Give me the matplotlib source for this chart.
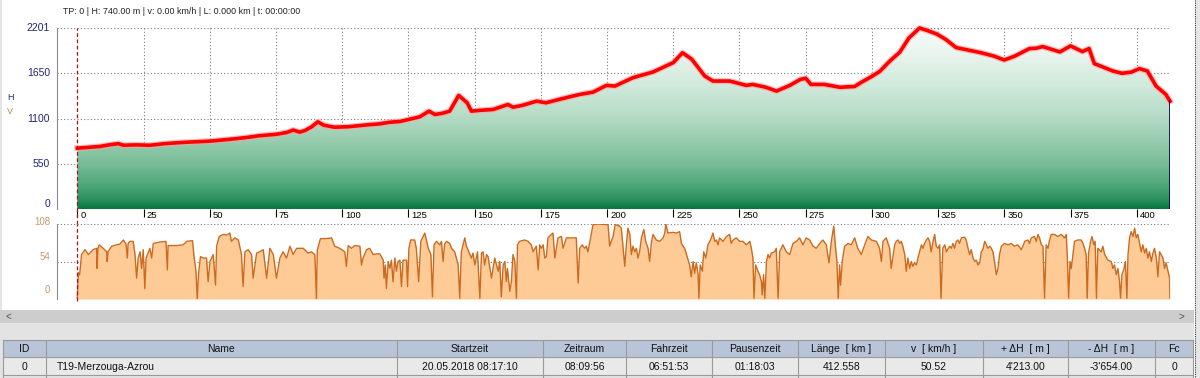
import matplotlib
matplotlib.use("Agg")
import matplotlib.pyplot as plt
import matplotlib.transforms as mtrans
from matplotlib.colors import LinearSegmentedColormap
from matplotlib.patches import Rectangle
import numpy as np

plt.rcParams['font.family'] = ['Liberation Sans', 'DejaVu Sans']

# ---- data ----
elev_km = [0, 5, 8.6, 12, 15.5, 17.4, 22, 27.4, 33, 40, 45, 50, 55, 58.9, 64, 69, 75, 79,
           81.5, 84, 86, 88.5, 90.8, 93, 97, 102, 107, 110, 114, 118, 122, 125, 129.3,
           132.8, 135, 138, 140.6, 144, 147.2, 148.8, 152, 157, 162.6, 164.5, 168, 173.4,
           177, 182.8, 189.7, 194.7, 199.8, 203, 209.8, 217.4, 225, 228.5, 232, 236.9,
           240, 246.3, 252.6, 255, 260, 264, 269, 273, 275, 277, 282, 288, 293.5, 296,
           300, 303, 306.7, 310.5, 314, 318, 321, 324.6, 328, 331.8, 336, 341, 346, 350,
           354, 359.5, 362, 364.5, 367, 371, 375, 379.5, 382, 384, 387, 391, 394.5, 398,
           401, 404, 407.3, 411, 412.558]
elev_m = [740, 752, 761, 780, 795, 775, 780, 775, 795, 810, 818, 825, 840, 852, 870, 892,
          908, 930, 960, 935, 955, 1000, 1060, 1020, 995, 1000, 1015, 1025, 1035, 1055,
          1065, 1088, 1121, 1190, 1149, 1165, 1190, 1381, 1292, 1190, 1200, 1210, 1271,
          1238, 1260, 1311, 1292, 1340, 1393, 1421, 1503, 1495, 1597, 1666, 1780, 1900,
          1821, 1617, 1556, 1556, 1503, 1515, 1480, 1434, 1503, 1576, 1590, 1515, 1515,
          1480, 1490, 1540, 1613, 1674, 1797, 1906, 2080, 2201, 2170, 2126, 2060, 1963,
          1935, 1902, 1860, 1812, 1860, 1951, 1955, 1975, 1950, 1910, 1983, 1914, 1951,
          1768, 1730, 1678, 1650, 1665, 1707, 1678, 1495, 1393, 1311]

speed_km = [0, 0.4, 0.9, 1.6, 2.9, 4.2, 6.0, 7.3, 7.5, 7.8, 8.3, 9.8, 11.1, 11.3, 11.6, 13.0,
            14.8, 16.1, 17.4, 18.4, 18.9, 19.2, 19.9, 21.1, 21.8, 22.4, 23.0, 23.7, 24.3,
            24.9, 25.5, 26.0, 27.4, 28.1, 28.7, 31.2, 33.5, 34.0, 34.3, 37.5, 40.0, 41.3,
            43.5, 44.0, 44.8, 45.3, 45.8, 46.5, 47.6, 48.8, 49.4, 50.1, 51.3, 52.2, 52.6,
            53.6, 55.1, 56.4, 57.6, 58.2, 59.5, 60.8, 62.0, 62.6, 63.3, 64.5, 65.8, 66.4,
            67.7, 68.9, 70.2, 71.5, 72.7, 74.0, 75.2, 76.5, 77.7, 79.0, 80.3, 81.5, 82.8,
            85.3, 87.2, 88.4, 89.7, 90.3, 90.6, 91.8, 94.1, 96.0, 97.2, 99.1, 101.0, 101.6,
            102.3, 103.5, 104.8, 106.7, 107.3, 107.9, 109.2, 110.4, 111.7, 113.0, 114.2,
            114.8, 115.5, 115.8, 116.3, 116.7, 117.4, 118.0, 118.6, 119.2, 119.9, 120.5,
            121.1, 121.8, 122.4, 123.0, 124.3, 124.7, 125.2, 125.9, 127.4, 128.0, 128.9,
            129.7, 130.6, 131.2, 131.8, 132.5, 133.5, 134.1, 134.7, 135.6, 136.9, 137.5,
            138.1, 138.7, 139.4, 140.6, 141.3, 142.5, 143.8, 144.4, 145.0, 146.3, 146.9,
            147.5, 148.8, 149.4, 150.1, 151.1, 152.0, 152.6, 153.2, 153.8, 154.5, 155.1,
            156.4, 157.6, 158.9, 159.5, 160.1, 160.8, 161.4, 162.0, 162.4, 163.3, 163.9,
            164.5, 165.2, 165.8, 166.2, 167.0, 168.9, 170.2, 171.4, 172.1, 173.3, 174.0,
            174.6, 175.2, 175.9, 176.5, 177.1, 177.7, 179.0, 179.6, 180.3, 181.5, 182.8,
            183.4, 184.7, 186.5, 188.4, 189.1, 189.7, 190.6, 191.6, 192.2, 192.8, 193.8,
            194.7, 196.6, 200.4, 201.0, 201.6, 202.3, 203.1, 204.8,
            205.4, 206.1, 206.7, 207.3, 207.9, 208.6, 209.2, 209.8, 210.5, 211.1, 211.7,
            212.3, 213.0, 213.9, 214.6, 215.5, 216.1, 216.8, 217.4, 218.6, 219.9, 221.2,
            221.8, 222.2, 223.0, 224.9, 226.2, 227.4, 228.1, 228.7, 229.3, 230.0, 230.6,
            231.2, 231.8, 232.5, 233.1, 233.7, 234.4, 234.7, 235.2, 236.0, 236.5, 237.3,
            238.1, 238.8, 239.4, 240.0, 240.7, 241.3, 241.9, 242.5, 243.8, 245.1, 246.3,
            246.9, 247.6, 248.8, 250.1, 251.3, 252.6, 253.9, 254.5, 255.1, 255.5, 256.1,
            257.0, 257.6, 258.3, 258.6, 259.1, 259.6, 260.2, 260.8, 261.4, 262.0, 263.3,
            263.9, 264.6, 265.2, 266.4, 267.7, 269.0, 270.2, 271.5, 272.7, 274.0, 275.2,
            276.5, 277.8, 279.0, 280.3, 281.5, 282.8, 283.8, 284.7, 285.6, 286.3, 286.8,
            287.3, 287.8, 288.2, 288.8, 289.7, 291.0, 292.2, 293.5, 294.7, 296.0, 297.3,
            298.5, 299.8, 301.7, 302.9, 303.6, 304.2, 305.4, 306.7, 307.3, 308.6,
            309.2, 309.9, 310.5, 311.1, 311.7, 312.4, 313.0, 313.6, 314.3, 314.9, 315.5,
            316.1, 316.8, 317.4, 318.0, 318.7, 319.3, 319.9, 320.6, 321.2, 321.8, 322.4,
            323.1, 323.7, 324.3, 325.0, 325.6, 326.1, 326.8, 327.5, 328.1, 329.4, 330.0,
            330.6, 331.2, 331.9, 332.5, 333.1, 333.8, 335.0, 335.6, 336.3, 336.9, 337.5,
            338.2, 338.8, 339.4, 340.1, 340.7, 341.3, 341.9, 342.6, 343.2, 343.8, 344.5,
            345.1, 345.7, 346.3, 347.0, 347.6, 348.2, 348.9, 350.1, 351.4, 352.6, 353.9,
            355.1, 356.4, 357.0, 357.7, 358.9, 359.5, 360.2, 361.4, 362.1, 362.7, 363.3,
            364.0, 364.6, 365.2, 365.8, 366.5, 367.1, 367.7, 369.0, 370.2, 371.5, 372.8,
            373.4, 373.8, 374.3, 374.8, 375.3, 375.9, 376.5, 377.8, 379.0, 379.7, 380.3,
            380.9, 381.3, 381.8, 382.6, 383.1, 383.8, 384.3, 384.8, 385.3, 386.6, 387.2,
            387.9, 389.1, 390.4, 391.0, 391.6, 392.3, 392.9, 393.5, 393.9, 394.4, 395.1,
            395.7, 396.3, 396.7, 397.3, 397.9, 398.6, 399.2, 399.8, 400.4, 401.1, 401.7,
            402.3, 403.0, 403.6, 404.2, 404.8, 405.5, 406.1, 406.7, 407.4, 408.0, 408.6,
            409.2, 409.9, 410.5, 411.1, 411.8, 412.4, 412.558]
speed_kmh = [0, 38, 35, 64, 71, 64, 71, 73, 44, 73, 78, 73, 68, 54, 68, 76,
             78, 79, 85, 79, 59, 80, 83, 83, 64, 30, 59, 68, 44,
             71, 15, 59, 73, 59, 80, 82, 83, 42, 77, 77, 78, 83,
             84, 64, 40, 0, 37, 61, 59, 59, 25, 54, 64, 20, 76,
             90, 93, 92, 95, 83, 88, 85, 64, 18, 68, 71, 64, 30,
             66, 68, 71, 30, 73, 64, 30, 59, 68, 59, 76, 64, 73,
             73, 66, 68, 64, 0, 70, 87, 87, 88, 76, 73, 68, 47,
             77, 73, 77, 76, 49, 59, 71, 73, 64, 65, 65,
             61, 56, 30, 49, 15, 54, 44, 56, 25, 59, 40,
             54, 56, 18, 56, 56, 18, 73, 85, 85, 73, 25,
             83, 90, 95, 85, 73, 64, 3, 78, 83, 78, 83,
             54, 79, 83, 80, 73, 68, 49, 1, 68, 88, 76,
             71, 59, 66, 49, 68, 1, 66, 68, 49, 64, 61,
             30, 59, 40, 54, 3, 49, 54, 25, 44, 11, 25,
             64, 54, 1, 78, 83, 85, 83, 78, 68, 76, 42,
             78, 73, 78, 59, 61, 88, 93, 95, 59, 88, 90,
             73, 88, 88, 88, 23, 73, 78, 73, 76, 68, 88,
             107, 108, 107, 76, 83, 90, 107, 105,
             102, 73, 47, 78, 102, 93, 64, 76, 68, 73, 59,
             68, 88, 100, 83, 73, 54, 83, 93, 85, 83, 88,
             95, 108, 95, 96, 95, 97, 80, 76, 73, 64, 56,
             49, 32, 54, 37, 52, 35, 1, 49, 40, 68, 59,
             78, 83, 88, 95, 83, 85, 78, 88, 83, 90, 93,
             80, 85, 88, 83, 83, 78, 83, 73, 59, 1, 49,
             40, 35, 25, 6, 35, 1, 54, 64, 59, 66, 68,
             73, 1, 68, 78, 68, 64, 80, 83, 88, 78, 88,
             85, 76, 73, 80, 85, 78, 52, 83, 105, 73, 54,
             1, 49, 20, 54, 76, 80, 78, 88, 73, 64, 78,
             90, 85, 83, 73, 54, 83, 88, 73, 44, 78,
             83, 85, 80, 83, 76, 64, 40, 59, 44, 54, 47,
             52, 49, 59, 68, 78, 73, 80, 85, 88, 83, 68,
             83, 93, 76, 73, 78, 1, 73, 78, 68, 76, 73,
             80, 73, 83, 85, 80, 88, 89, 85, 73, 64, 71,
             59, 54, 56, 49, 52, 68, 71, 83, 78, 73, 76,
             73, 68, 54, 35, 44, 64, 76, 80, 78, 80, 76,
             78, 71, 76, 83, 85, 80, 88, 90, 83, 93, 88,
             78, 76, 1, 78, 73, 85, 93, 93, 90, 93, 88,
             93, 59, 1, 54, 44, 64, 83, 85, 85, 80, 73,
             64, 1, 66, 83, 90, 78, 83, 1, 73, 68, 76,
             64, 56, 54, 44, 49, 35, 44, 25, 1, 35, 42,
             54, 1, 64, 88, 97, 90, 102, 88, 93, 80, 68,
             78, 66, 73, 59, 68, 54, 66, 73, 59, 32, 68,
             64, 59, 44, 52, 40, 30, 0]

elev_ticks = [0, 550, 1100, 1650, 2201]
speed_ticks = [0, 54, 108]
dist_ticks = list(range(0, 401, 25))
track_len = 412.558

header_line = "TP: 0 | H: 740.00 m | v: 0.00 km/h | L: 0.000 km | t: 00:00:00"
col_names = ["ID", "Name", "Startzeit", "Zeitraum", "Fahrzeit", "Pausenzeit",
             "Länge  [ km ]", "v  [ km/h ]", "+ ΔH  [ m ]", "- ΔH  [ m ]", "Fc"]
row_values = ["0", "T19-Merzouga-Azrou", "20.05.2018 08:17:10", "08:09:56", "06:51:53",
              "01:18:03", "412.558", "50.52", "4'213.00", "-3'654.00", "0"]

# ---- layout (pixels) ----
W, H = 1200, 378
col_edges = [3, 46, 397, 543, 626, 712, 798, 885, 983, 1068, 1155, 1193]

fig = plt.figure(figsize=(W / 100, H / 100), dpi=100)


def px_axes(x0, y0, x1, y1, **kw):
    return fig.add_axes([x0 / W, 1 - y1 / H, (x1 - x0) / W, (y1 - y0) / H], **kw)


# background / window chrome
bg = px_axes(0, 0, W, H, zorder=-5)
bg.set_xlim(0, W)
bg.set_ylim(H, 0)
bg.axis("off")
bg.add_patch(Rectangle((0, 0), 2, 310, fc="#e4e4e4", ec="none"))
bg.add_patch(Rectangle((1195, 0), 5, H, fc="#e6e6e6", ec="none"))
bg.plot([1195, 1195], [0, H], color="#404040", lw=0.8, ls=(0, (1, 1)))
bg.add_patch(Rectangle((0, 310), 1194, 13, fc="#cdcdcd", ec="none"))
bg.text(8, 316.5, "<", fontsize=7, color="#505050", ha="center", va="center")
bg.text(1181, 316.5, ">", fontsize=7, color="#505050", ha="center", va="center")
bg.add_patch(Rectangle((0, 323), 1194, H - 323, fc="#e3e3e3", ec="none"))

# table
x_l, x_r = col_edges[0], col_edges[-1]
bg.add_patch(Rectangle((x_l, 340), x_r - x_l, 17, fc="#b8c4d8", ec="none"))
bg.add_patch(Rectangle((x_l, 357), x_r - x_l, 18, fc="#e9e9e9", ec="none"))
for yy in (340, 357, 375):
    bg.plot([x_l, x_r], [yy, yy], color="#9a9a9a", lw=0.8)
for xx in col_edges:
    bg.plot([xx, xx], [340, H], color="#9a9a9a", lw=0.8)
for i, (name, val) in enumerate(zip(col_names, row_values)):
    xc = (col_edges[i] + col_edges[i + 1]) / 2
    bg.text(xc, 348.5, name, fontsize=7.5, ha="center", va="center", color="#111111")
    if name == "Name":
        bg.text(col_edges[i] + 11, 366.5, val, fontsize=7.5, ha="left", va="center",
                color="#111111")
    else:
        bg.text(xc, 366.5, val, fontsize=7.5, ha="center", va="center", color="#111111")

# ---- elevation panel ----
x_min = -7.66
ax_e = px_axes(57, 28, 1170, 209)
ax_e.set_xlim(x_min, track_len)
ax_e.set_ylim(0, 2201)
ax_e.patch.set_alpha(0)
for s in ("top", "right", "bottom"):
    ax_e.spines[s].set_visible(False)
ax_e.spines["left"].set_color("#8a8a8a")

grid_kw = dict(color="#7a7a7a", lw=0.8, ls=(0, (1, 2)), zorder=1)
for y in elev_ticks:
    ax_e.axhline(y, **grid_kw)
for d in dist_ticks[1:]:
    ax_e.axvline(d, **grid_kw)

cmap = LinearSegmentedColormap.from_list("elev", [
    (0.00, "#067840"), (0.05, "#2a8f5c"), (0.12, "#4aa576"), (0.25, "#78bd97"),
    (0.40, "#9dcfb3"), (0.55, "#bcdfcb"), (0.70, "#d3ebdd"), (0.85, "#e8f4ed"),
    (1.00, "#fafdfb")])
grad = np.linspace(0, 1, 256).reshape(-1, 1)
im = ax_e.imshow(grad, cmap=cmap, origin="lower", aspect="auto",
                 extent=[0, track_len, 0, 2201], zorder=2)
poly = ax_e.fill_between(elev_km, elev_m, 0, facecolor="none", edgecolor="none")
im.set_clip_path(poly.get_paths()[0], transform=ax_e.transData)

ax_e.plot(elev_km, elev_m, color="#ff9c9c", lw=4.4, alpha=0.6, zorder=4,
          solid_joinstyle="round", clip_on=False)
ax_e.plot(elev_km, elev_m, color="#ff0000", lw=2.6, zorder=5,
          solid_joinstyle="round", clip_on=False)
ax_e.plot([track_len, track_len], [0, elev_m[-1]], color="#000050", lw=1.2, zorder=5)

ax_e.set_xticks(dist_ticks)
ax_e.tick_params(axis="x", direction="out", length=5.8, width=0.8, color="black",
                 labelbottom=False)
ax_e.set_yticks([])
lab_tr = mtrans.offset_copy(ax_e.get_xaxis_transform(), fig=fig, x=3, y=-6, units="dots")
for d in dist_ticks:
    ax_e.text(d, 0, str(d), transform=lab_tr, fontsize=6.8, ha="left", va="center")
ytr = mtrans.offset_copy(ax_e.get_yaxis_transform(), fig=fig, x=-7, y=0, units="dots")
for y in elev_ticks:
    ax_e.text(0, y, str(y), transform=ytr, fontsize=7.5, ha="right",
              va="bottom" if y == 0 else "center", color="#23237a")

ax_e.axvline(0, ymin=-15 / 181, ymax=1, color="#b01010", lw=0.9, ls=(0, (3, 2)),
             clip_on=False, zorder=7)

# ---- speed panel ----
ax_v = px_axes(57, 224, 1170, 299)
ax_v.set_xlim(x_min, track_len)
ax_v.set_ylim(0, 108)
ax_v.patch.set_alpha(0)
for s in ("top", "right", "bottom"):
    ax_v.spines[s].set_visible(False)
ax_v.spines["left"].set_color("#8a8a8a")
ax_v.set_xticks([])
ax_v.set_yticks([])
for y in speed_ticks:
    ax_v.axhline(y, **grid_kw)
ax_v.fill_between(speed_km, speed_kmh, 0, color="#fecb96", lw=0, zorder=2)
ax_v.plot(speed_km, speed_kmh, color="#cc6a1e", lw=1.0, zorder=3)
ax_v.axvline(0, ymin=-0.02, ymax=1, color="#b01010", lw=0.9, ls=(0, (3, 2)),
             clip_on=False, zorder=7)
lift = {0: 9, 54: 4.5, 108: 2}
for y in speed_ticks:
    tr = mtrans.offset_copy(ax_v.get_yaxis_transform(), fig=fig, x=-7, y=lift[y],
                            units="dots")
    ax_v.text(0, y, str(y), transform=tr, fontsize=7, ha="right", va="center",
              color="#c49a6c")

# ---- labels ----
fig.text(63 / W, 1 - 11 / H, header_line, fontsize=6.4, va="center", color="#202020")
fig.text(7 / W, 1 - 98 / H, "H", fontsize=6.5, va="center", color="#2a2a80")
fig.text(7 / W, 1 - 112 / H, "V", fontsize=6.5, va="center", color="#d08040")

fig.savefig("out.png", dpi=100)
